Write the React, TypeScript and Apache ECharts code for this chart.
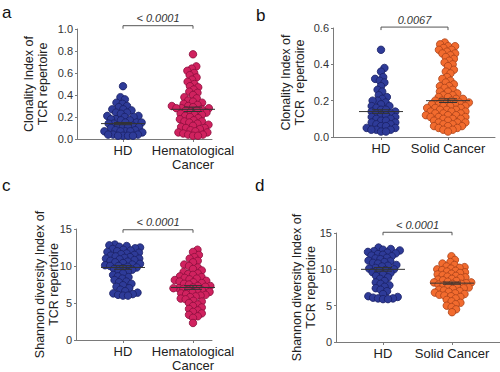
import React, { useEffect, useRef } from "react";
import * as echarts from "echarts";

// ---------------- data ----------------
const categoriesA = ["HD", "Hematological\nCancer"];
const categoriesB = ["HD", "Solid Cancer"];

const clonalityHD_a = [0.48, 0.38, 0.36, 0.33, 0.32, 0.30, 0.29, 0.27, 0.27, 0.26, 0.24, 0.24, 0.23, 0.21, 0.21, 0.20, 0.20, 0.18, 0.18, 0.17, 0.17, 0.15, 0.15, 0.15, 0.14, 0.14, 0.12, 0.12, 0.11, 0.11, 0.11, 0.10, 0.08, 0.08, 0.07, 0.07, 0.07, 0.07, 0.06, 0.04, 0.04, 0.04, 0.03, 0.03, 0.03, 0.03];
const clonalityHem_a = [0.77, 0.66, 0.64, 0.62, 0.60, 0.58, 0.56, 0.54, 0.52, 0.50, 0.48, 0.47, 0.45, 0.43, 0.42, 0.40, 0.38, 0.37, 0.35, 0.34, 0.33, 0.32, 0.31, 0.30, 0.30, 0.29, 0.29, 0.28, 0.28, 0.28, 0.27, 0.26, 0.26, 0.25, 0.24, 0.23, 0.22, 0.22, 0.21, 0.20, 0.19, 0.18, 0.17, 0.16, 0.16, 0.15, 0.14, 0.13, 0.12, 0.11, 0.10, 0.10, 0.09, 0.08, 0.07, 0.06, 0.06, 0.05, 0.04, 0.04, 0.03, 0.03];

const clonalityHD_b = [0.48, 0.38, 0.36, 0.33, 0.32, 0.31, 0.30, 0.28, 0.26, 0.25, 0.23, 0.22, 0.21, 0.20, 0.20, 0.19, 0.18, 0.17, 0.17, 0.16, 0.15, 0.15, 0.14, 0.14, 0.13, 0.13, 0.12, 0.12, 0.11, 0.11, 0.10, 0.10, 0.09, 0.09, 0.08, 0.08, 0.07, 0.07, 0.06, 0.06, 0.05, 0.05, 0.04, 0.04, 0.04, 0.03, 0.03];
const clonalitySolid_b = [0.52, 0.51, 0.50, 0.50, 0.49, 0.48, 0.48, 0.47, 0.46, 0.46, 0.45, 0.44, 0.43, 0.42, 0.41, 0.40, 0.39, 0.37, 0.36, 0.35, 0.33, 0.32, 0.31, 0.30, 0.29, 0.28, 0.28, 0.27, 0.26, 0.25, 0.25, 0.24, 0.23, 0.23, 0.22, 0.22, 0.21, 0.21, 0.20, 0.20, 0.20, 0.19, 0.19, 0.19, 0.18, 0.18, 0.18, 0.17, 0.17, 0.17, 0.16, 0.16, 0.16, 0.15, 0.15, 0.15, 0.14, 0.14, 0.14, 0.13, 0.13, 0.13, 0.12, 0.12, 0.12, 0.11, 0.11, 0.11, 0.10, 0.10, 0.10, 0.09, 0.09, 0.08, 0.08, 0.08, 0.07, 0.07, 0.06, 0.06, 0.06, 0.05, 0.05, 0.04, 0.04, 0.03];

const shannonHD_c = [12.9, 12.8, 12.7, 12.6, 12.5, 12.4, 12.3, 12.2, 12.1, 12.0, 11.9, 11.8, 11.7, 11.6, 11.5, 11.4, 11.3, 11.2, 11.1, 11.0, 11.0, 10.9, 10.8, 10.7, 10.6, 10.5, 10.4, 10.3, 10.2, 10.1, 10.0, 10.0, 9.9, 9.8, 9.7, 9.6, 9.5, 9.3, 9.2, 9.0, 8.8, 8.6, 8.5, 8.3, 8.1, 7.9, 7.8, 7.6, 7.4, 7.2, 7.0, 6.8, 6.6, 6.4, 6.3, 6.2, 6.1, 6.0, 6.0];
const shannonHem_c = [12.2, 11.9, 11.5, 11.2, 11.0, 10.7, 10.5, 10.2, 10.0, 9.8, 9.6, 9.4, 9.2, 9.0, 8.9, 8.8, 8.6, 8.5, 8.4, 8.3, 8.2, 8.1, 8.0, 7.9, 7.8, 7.7, 7.6, 7.5, 7.4, 7.3, 7.3, 7.2, 7.1, 7.0, 7.0, 6.9, 6.8, 6.7, 6.6, 6.5, 6.4, 6.3, 6.2, 6.1, 6.0, 5.9, 5.8, 5.6, 5.5, 5.3, 5.2, 5.0, 4.8, 4.6, 4.4, 4.2, 4.0, 3.8, 3.6, 3.4, 3.2, 3.0, 2.3];

const shannonHD_d = [13.0, 12.8, 12.7, 12.6, 12.5, 12.4, 12.3, 12.2, 12.1, 12.0, 11.9, 11.8, 11.6, 11.5, 11.4, 11.2, 11.1, 11.0, 10.9, 10.8, 10.6, 10.5, 10.4, 10.2, 10.1, 10.0, 9.9, 9.8, 9.6, 9.5, 9.3, 9.1, 8.9, 8.7, 8.4, 8.2, 8.0, 7.8, 7.6, 7.4, 7.2, 7.0, 6.6, 6.3, 6.2, 6.1, 6.0, 6.0, 5.9, 5.9];
const shannonSolid_d = [11.8, 11.3, 11.0, 10.8, 10.6, 10.4, 10.3, 10.2, 10.1, 10.0, 9.9, 9.8, 9.7, 9.6, 9.5, 9.4, 9.3, 9.2, 9.1, 9.0, 8.9, 8.8, 8.7, 8.6, 8.5, 8.4, 8.3, 8.2, 8.2, 8.1, 8.0, 8.0, 7.9, 7.8, 7.7, 7.6, 7.5, 7.4, 7.3, 7.2, 7.1, 7.0, 6.9, 6.8, 6.7, 6.6, 6.5, 6.4, 6.3, 6.2, 6.0, 5.8, 5.6, 5.4, 5.2, 5.0, 4.8, 4.5, 4.1];

// mean, SEM per group
const meansA = [0.14, 0.27];
const semA = [0.01, 0.02];
const meansB = [0.14, 0.2];
const semB = [0.01, 0.01];
const meansC = [9.8, 7.1];
const semC = [0.25, 0.25];
const meansD = [10.0, 8.1];
const semD = [0.25, 0.15];

const pValues = ["< 0.0001", "0.0067", "< 0.0001", "< 0.0001"];
const bracketLevels = [1.03, 0.605, 14.9, 15.1];

const yTicksClonA = [0, 1, 0.2];
const yTicksClonB = [0, 0.6, 0.2];
const yTicksShannon = [0, 15, 5];

const panelLetters = ["a", "b", "c", "d"];
const yTitleClon = "Clonality Index of\nTCR repertoire";
const yTitleClonB = "Clonality Index of\nTCR  repertoire";
const yTitleShannon = "Shannon diversity Index of\nTCR repertoire";

// ---------------- styles ----------------
const FONT = "Liberation Sans, Arial, Helvetica, sans-serif";
const BLUE = { fill: "#2e3b98", edge: "#1a2165" };
const RED = { fill: "#d0225f", edge: "#8a0f3c" };
const ORANGE = { fill: "#f26b2e", edge: "#a9431b" };

type Panel = {
  left: number; top: number; width: number; height: number;
  x1px: number; x2px: number;
  yRange: number[]; decimals: number;
  groups: number[][]; colors: { fill: string; edge: string }[];
  means: number[]; sems: number[]; cats: string[];
  title: string; nameGap: number; p: string; level: number;
  letter: string; lx: number; ly: number;
};

const panels: Panel[] = [
  { left: 77, top: 29, width: 135, height: 110, x1px: 123, x2px: 193, yRange: yTicksClonA, decimals: 1,
    groups: [clonalityHD_a, clonalityHem_a], colors: [BLUE, RED], means: meansA, sems: semA, cats: categoriesA,
    title: yTitleClon, nameGap: 27, p: pValues[0], level: bracketLevels[0], letter: panelLetters[0], lx: 2, ly: 19 },
  { left: 333, top: 28, width: 162, height: 109, x1px: 381, x2px: 448, yRange: yTicksClonB, decimals: 1,
    groups: [clonalityHD_b, clonalitySolid_b], colors: [BLUE, ORANGE], means: meansB, sems: semB, cats: categoriesB,
    title: yTitleClonB, nameGap: 26, p: pValues[1], level: bracketLevels[1], letter: panelLetters[1], lx: 256, ly: 22 },
  { left: 76, top: 229, width: 136, height: 112, x1px: 123, x2px: 193, yRange: yTicksShannon, decimals: 0,
    groups: [shannonHD_c, shannonHem_c], colors: [BLUE, RED], means: meansC, sems: semC, cats: categoriesA,
    title: yTitleShannon, nameGap: 15, p: pValues[2], level: bracketLevels[2], letter: panelLetters[2], lx: 2, ly: 192 },
  { left: 336, top: 233, width: 164, height: 109, x1px: 383, x2px: 452, yRange: yTicksShannon, decimals: 0,
    groups: [shannonHD_d, shannonSolid_d], colors: [BLUE, ORANGE], means: meansD, sems: semD, cats: categoriesB,
    title: yTitleShannon, nameGap: 18, p: pValues[3], level: bracketLevels[3], letter: panelLetters[3], lx: 255, ly: 192 },
];

// beeswarm layout: horizontal pixel offsets so points don't overlap more than allowed
function swarmOffsets(vals: number[], pxPerY: number, minD: number): number[] {
  const idx = vals.map((_, i) => i).sort((a, b) => vals[a] - vals[b]);
  const placed: { x: number; y: number }[] = [];
  const out = new Array(vals.length).fill(0);
  for (const i of idx) {
    const y = vals[i] * pxPerY;
    const near = placed.filter((p) => Math.abs(p.y - y) < minD);
    const cands = [0];
    for (const p of near) {
      const d = Math.sqrt(minD * minD - (p.y - y) * (p.y - y));
      cands.push(p.x + d, p.x - d);
    }
    cands.sort((a, b) => Math.abs(a) - Math.abs(b));
    let chosen = 0;
    for (const c of cands) {
      if (near.every((p) => (p.x - c) ** 2 + (p.y - y) ** 2 >= minD * minD - 1e-6)) { chosen = c; break; }
    }
    placed.push({ x: chosen, y });
    out[i] = chosen;
  }
  return out;
}

function buildOption() {
  const grid: any[] = [];
  const xAxis: any[] = [];
  const yAxis: any[] = [];
  const series: any[] = [];
  const graphic: any[] = [];
  panels.forEach((pn, k) => {
    const pxPerX = pn.x2px - pn.x1px;
    const xMin = 1 - (pn.x1px - pn.left) / pxPerX;
    const xMax = xMin + pn.width / pxPerX;
    const [yMin, yMax, yInt] = pn.yRange;
    const pxPerY = pn.height / (yMax - yMin);
    grid.push({ left: pn.left, top: pn.top, width: pn.width, height: pn.height, containLabel: false });
    xAxis.push({
      type: "value", gridIndex: k, min: xMin, max: xMax,
      axisLine: { lineStyle: { color: "#7a7a7a", width: 1 } },
      axisTick: { show: true, customValues: [1, 2], length: 3, lineStyle: { color: "#7a7a7a" } },
      axisLabel: {
        customValues: [1, 2], margin: 4, color: "#222", fontSize: 13, fontFamily: FONT, lineHeight: 14,
        formatter: (v: number) => pn.cats[Math.round(v) - 1] ?? "",
      },
      splitLine: { show: false },
    });
    yAxis.push({
      type: "value", gridIndex: k, min: yMin, max: yMax, interval: yInt,
      name: pn.title, nameLocation: "middle", nameRotate: 90, nameGap: pn.nameGap, nameMoveOverlap: false,
      nameTextStyle: { color: "#222", fontSize: 12.5, fontFamily: FONT, lineHeight: 14 },
      axisLine: { show: true, lineStyle: { color: "#7a7a7a", width: 1 } },
      axisTick: { show: true, length: 2, lineStyle: { color: "#7a7a7a" } },
      axisLabel: { margin: 4, color: "#333", fontSize: 11, fontFamily: FONT,
        formatter: (v: number) => v.toFixed(pn.decimals) },
      splitLine: { show: false },
    });
    pn.groups.forEach((vals, g) => {
      const offs = swarmOffsets(vals, pxPerY, 5);
      series.push({
        type: "scatter", xAxisIndex: k, yAxisIndex: k, symbol: "circle", symbolSize: 7.5, z: 2,
        itemStyle: { color: pn.colors[g].fill, borderColor: pn.colors[g].edge, borderWidth: 0.8, opacity: 1 },
        data: vals.map((v, i) => [g + 1 + offs[i] / pxPerX, v]),
      });
    });
    // mean ± SEM
    series.push({
      type: "custom", xAxisIndex: k, yAxisIndex: k, z: 5, clip: false,
      data: pn.means.map((m, g) => [g + 1, m, pn.sems[g]]),
      renderItem: (_p: any, api: any) => {
        const x = api.value(0), m = api.value(1), s = api.value(2);
        const c = api.coord([x, m]);
        const t = api.coord([x, m + s]);
        const b = api.coord([x, m - s]);
        const st = { stroke: "#333", lineWidth: 1 };
        return {
          type: "group",
          children: [
            { type: "line", shape: { x1: c[0] - 22, y1: c[1], x2: c[0] + 22, y2: c[1] }, style: st },
            { type: "line", shape: { x1: c[0], y1: t[1], x2: c[0], y2: b[1] }, style: st },
            { type: "line", shape: { x1: c[0] - 9, y1: t[1], x2: c[0] + 9, y2: t[1] }, style: st },
            { type: "line", shape: { x1: c[0] - 9, y1: b[1], x2: c[0] + 9, y2: b[1] }, style: st },
          ],
        };
      },
    });
    // significance bracket
    series.push({
      type: "custom", xAxisIndex: k, yAxisIndex: k, z: 5, clip: false,
      data: [[1, 2, pn.level]],
      renderItem: (_p: any, api: any) => {
        const a = api.coord([api.value(0), api.value(2)]);
        const b = api.coord([api.value(1), api.value(2)]);
        return {
          type: "group",
          children: [
            { type: "polyline", shape: { points: [[a[0], a[1] + 3], [a[0], a[1]], [b[0], b[1]], [b[0], b[1] + 3]] },
              style: { stroke: "#555", lineWidth: 1, fill: null } },
            { type: "text", style: { text: pn.p, x: (a[0] + b[0]) / 2, y: a[1] - 2, align: "center", verticalAlign: "bottom",
              fill: "#333", font: `italic 11px ${FONT}` } },
          ],
        };
      },
    });
    graphic.push({ type: "text", left: pn.lx, top: pn.ly - 15,
      style: { text: pn.letter, fill: "#111", font: `17px ${FONT}` } });
  });
  return { animation: false, backgroundColor: "#ffffff", grid, xAxis, yAxis, series, graphic };
}

export default function App() {
  const ref = useRef<HTMLDivElement>(null);
  useEffect(() => {
    if (!ref.current) return;
    const chart = echarts.init(ref.current, undefined, { renderer: "svg" });
    chart.setOption(buildOption() as any);
    return () => chart.dispose();
  }, []);
  return <div ref={ref} style={{ position: "fixed", left: 0, top: 0, width: 500, height: 372, background: "#fff" }} />;
}
